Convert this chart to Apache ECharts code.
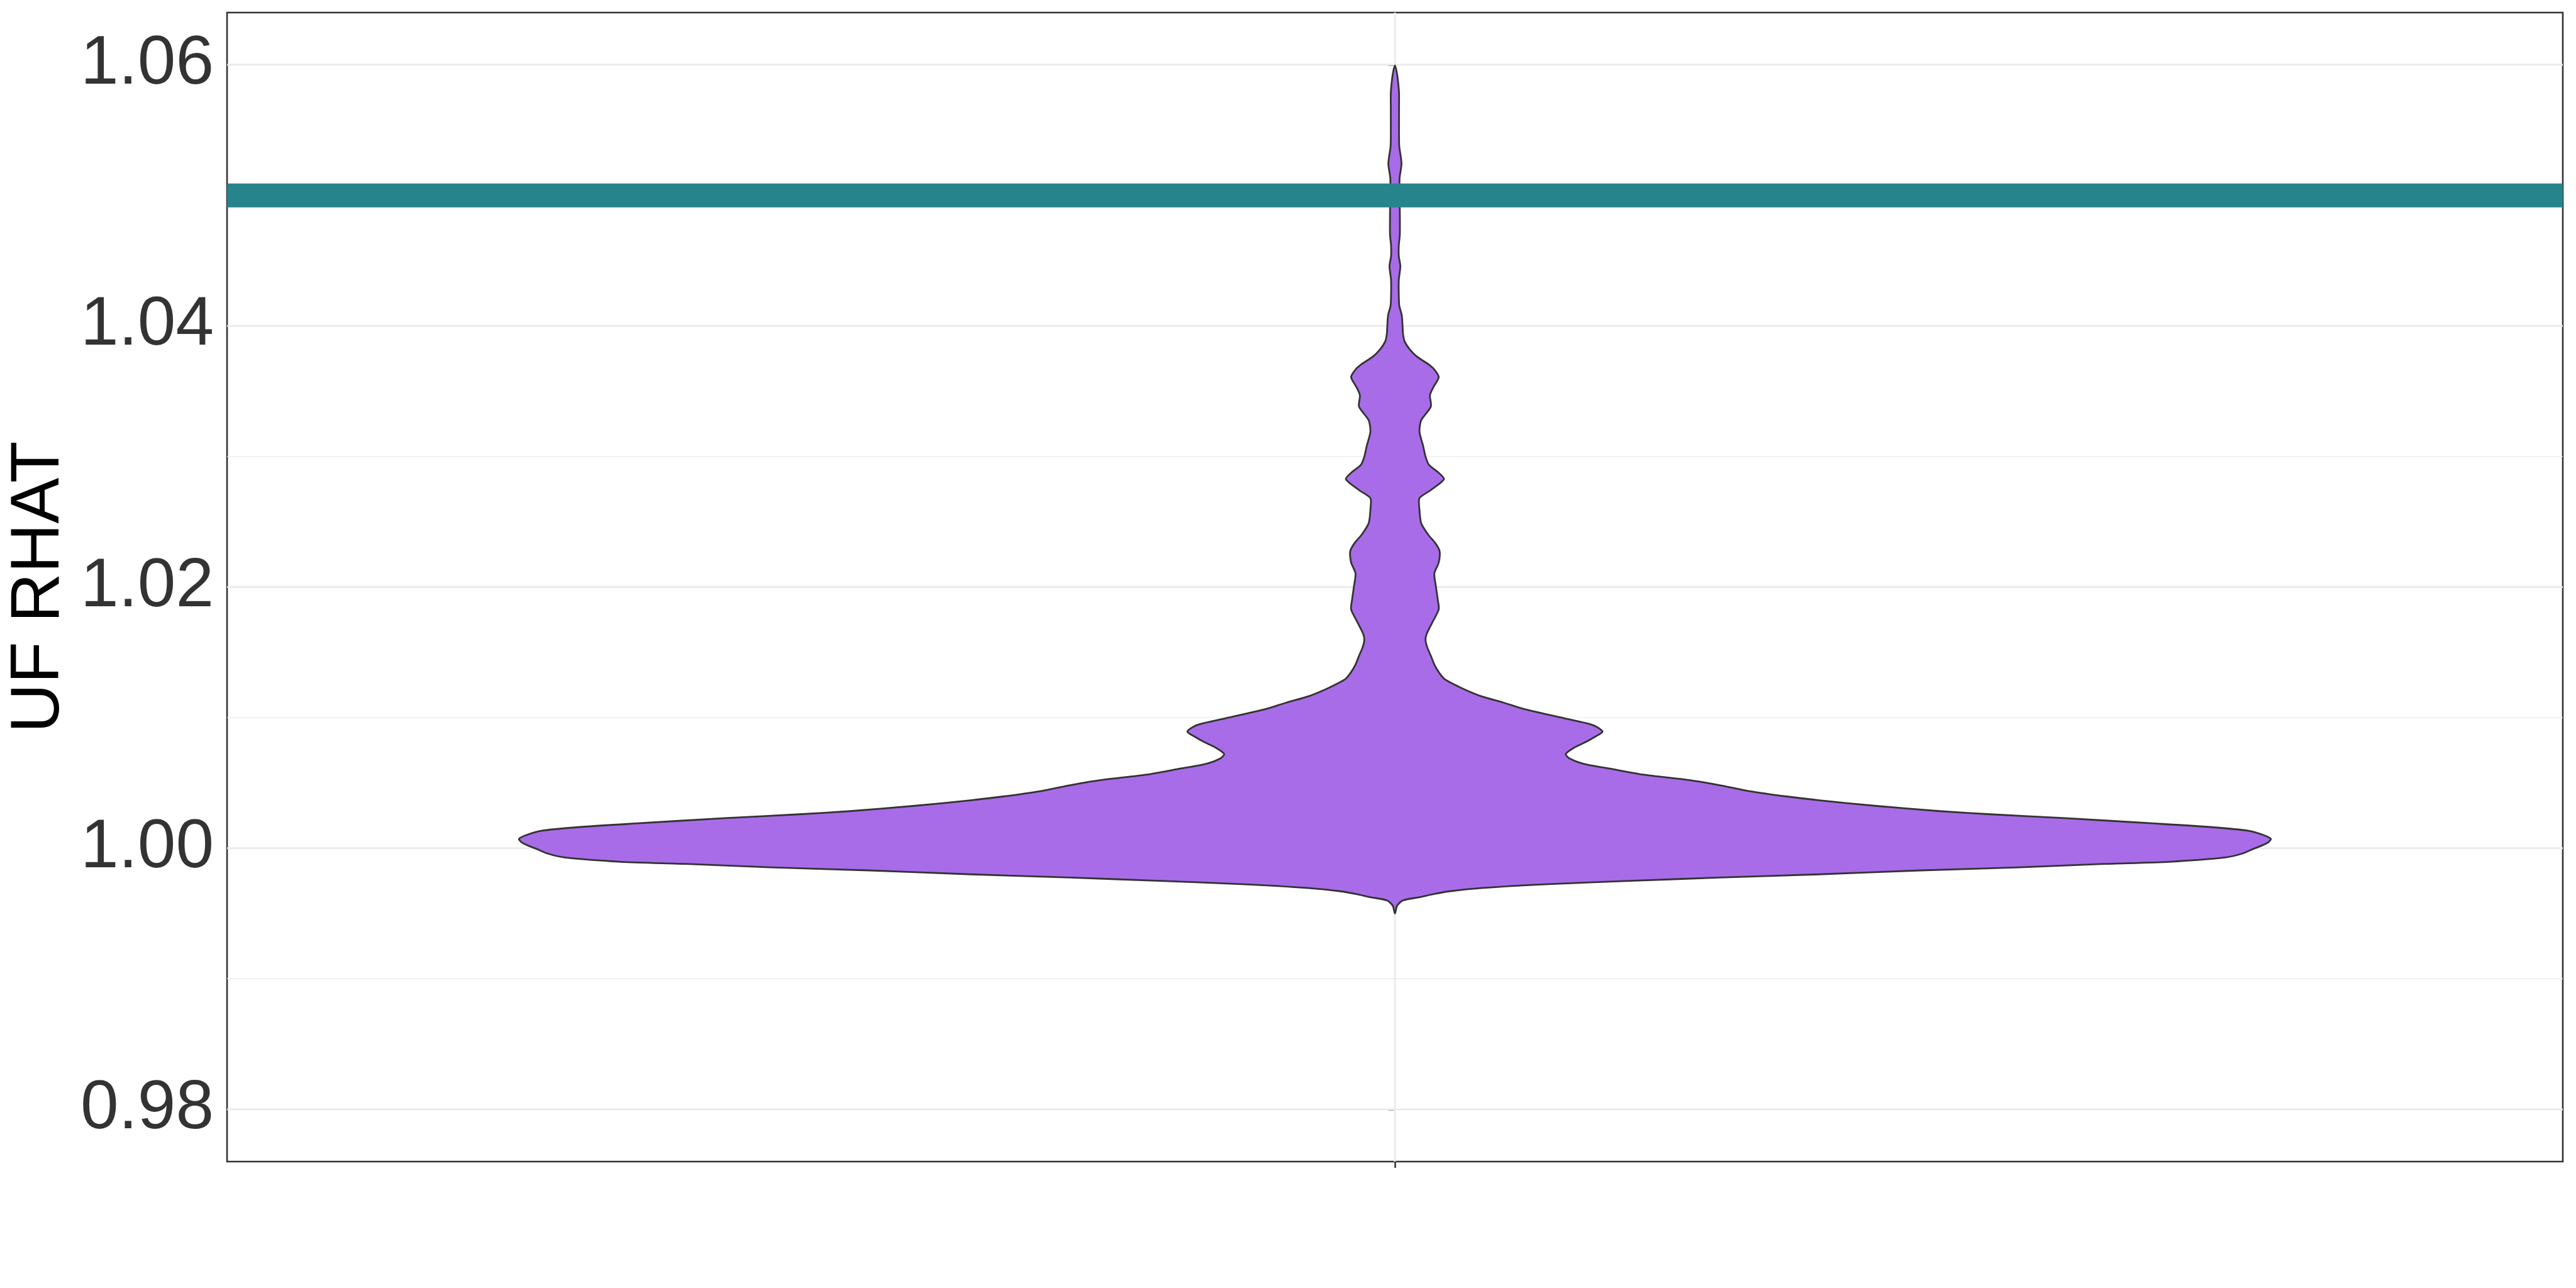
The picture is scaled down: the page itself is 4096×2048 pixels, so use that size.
<!DOCTYPE html>
<html>
<head>
<meta charset="utf-8">
<script src="https://cdn.jsdelivr.net/npm/echarts@6/dist/echarts.min.js"></script>
<style>
html,body{margin:0;padding:0;background:#ffffff;}
#chart{width:4096px;height:2048px;}
</style>
</head>
<body>
<div id="chart"></div>
<script>
// ---------- data ----------
const yTickLabels = [0.98, 1.00, 1.02, 1.04, 1.06];
const yMinorTicks = [0.99, 1.01, 1.03, 1.05];
const yRange = [0.976, 1.064];
const xCategoryPos = [0];          // one (unlabelled) group, centred
const thresholdValues = [1.05];
const axisTitle = 'UF RHAT';

// violin outline: y values and relative half-width (density scaled to max = 1)
const violinY = [0.99500, 0.99560, 0.99600, 0.99625, 0.99650, 0.99670, 0.99695, 0.99725, 0.99750, 0.99775,
  0.99800, 0.99830, 0.99854, 0.99880, 0.99896, 0.99929, 0.99960, 0.99992, 1.00021, 1.00045,
  1.00071, 1.00100, 1.00134, 1.00160, 1.00188, 1.00230, 1.00260, 1.00284, 1.00325, 1.00367,
  1.00396, 1.00438, 1.00480, 1.00522, 1.00564, 1.00605, 1.00647, 1.00689, 1.00722, 1.00772,
  1.00814, 1.00856, 1.00893, 1.00931, 1.00952, 1.00994, 1.01065, 1.01115, 1.01165, 1.01211,
  1.01253, 1.01299, 1.01349, 1.01407, 1.01474, 1.01537, 1.01591, 1.01637, 1.01720, 1.01829,
  1.01900, 1.01996, 1.02104, 1.02188, 1.02276, 1.02338, 1.02401, 1.02489, 1.02593, 1.02681,
  1.02743, 1.02827, 1.02881, 1.02935, 1.02998, 1.03086, 1.03190, 1.03278, 1.03382, 1.03469,
  1.03532, 1.03607, 1.03658, 1.03703, 1.03766, 1.03820, 1.03883, 1.03937, 1.04000, 1.04083,
  1.04154, 1.04238, 1.04351, 1.04459, 1.04534, 1.04614, 1.04701, 1.04873, 1.04990, 1.05132,
  1.05244, 1.05374, 1.05449, 1.05658, 1.05783, 1.05883, 1.05950, 1.05996];
const violinDensity = [0, 0.0025, 0.009, 0.028, 0.045, 0.062, 0.098, 0.175, 0.268, 0.370,
  0.484, 0.600, 0.713, 0.810, 0.884, 0.948, 0.968, 0.979, 0.990, 0.997,
  1.000, 0.992, 0.974, 0.935, 0.871, 0.765, 0.680, 0.622, 0.548, 0.485,
  0.448, 0.404, 0.373, 0.336, 0.283, 0.249, 0.215, 0.199, 0.195, 0.205,
  0.218, 0.229, 0.237, 0.230, 0.222, 0.194, 0.148, 0.124, 0.098, 0.081,
  0.068, 0.056, 0.050, 0.045, 0.041, 0.037, 0.035, 0.036, 0.042, 0.050,
  0.049, 0.047, 0.045, 0.050, 0.051, 0.046, 0.038, 0.030, 0.028, 0.028,
  0.041, 0.056, 0.049, 0.039, 0.035, 0.032, 0.028, 0.030, 0.041, 0.040,
  0.044, 0.050, 0.046, 0.039, 0.025, 0.017, 0.011, 0.0093, 0.0087, 0.0078,
  0.0050, 0.0044, 0.0044, 0.0062, 0.0044, 0.0044, 0.0056, 0.0056, 0.0053, 0.0053,
  0.0075, 0.0050, 0.0047, 0.0047, 0.0047, 0.0034, 0.0019, 0];

// ---------- style constants ----------
const VIOLIN_HALF = 0.45;   // half of the 0.9 dodge width, in x units
const FONT = "'Liberation Sans', Arial, sans-serif";
const DARK = '#333333';
const GRID_COL = '#EBEBEB';

const chart = echarts.init(document.getElementById('chart'), null, {renderer: 'canvas'});

function hLineSeries(values, width, color, z) {
  return {
    type: 'custom', z: z, silent: true, clip: false,
    data: values.map(v => [0, v]),
    renderItem: function (params, api) {
      const cs = params.coordSys;
      const p = api.coord([0, api.value(1)]);
      return {
        type: 'line',
        shape: {x1: cs.x, y1: p[1], x2: cs.x + cs.width, y2: p[1]},
        style: {stroke: color, lineWidth: width, lineCap: 'butt'}
      };
    }
  };
}

const option = {
  animation: false,
  backgroundColor: '#ffffff',
  grid: {
    left: 361, right: 21, top: 20, bottom: 201,
    show: true, borderColor: DARK, borderWidth: 2.6, backgroundColor: 'transparent',
    containLabel: false
  },
  xAxis: {
    type: 'value', min: -0.6, max: 0.6,
    axisLine: {show: false},
    splitLine: {show: false},
    axisLabel: {show: false, customValues: xCategoryPos},
    axisTick: {show: true, customValues: xCategoryPos, length: 10, lineStyle: {color: DARK, width: 2.6}}
  },
  yAxis: {
    type: 'value', min: yRange[0], max: yRange[1],
    axisLine: {show: false},
    splitLine: {show: false},
    axisTick: {show: true, customValues: yTickLabels, length: 10, lineStyle: {color: DARK, width: 2.6}},
    axisLabel: {
      customValues: yTickLabels,
      formatter: v => Number(v).toFixed(2),
      fontSize: 109, color: DARK, fontFamily: FONT, margin: 21
    },
    name: axisTitle, nameLocation: 'middle', nameGap: 244,
    nameTextStyle: {fontSize: 109, color: '#000000', fontFamily: FONT}
  },
  series: [
    hLineSeries(yMinorTicks, 1.45, GRID_COL, 1),
    hLineSeries(yTickLabels, 2.9, GRID_COL, 1),
    {
      type: 'custom', z: 1, silent: true, clip: false,
      data: xCategoryPos.map(x => [x, yRange[0]]),
      renderItem: function (params, api) {
        const cs = params.coordSys;
        const p = api.coord([api.value(0), yRange[0]]);
        return {
          type: 'line',
          shape: {x1: p[0], y1: cs.y, x2: p[0], y2: cs.y + cs.height},
          style: {stroke: GRID_COL, lineWidth: 2.9}
        };
      }
    },
    {
      type: 'custom', z: 2, silent: true, clip: false,
      data: xCategoryPos.map(x => [x, 1.0]),
      renderItem: function (params, api) {
        const cx = api.value(0);
        const pts = [];
        for (let i = 0; i < violinY.length; i++) {
          pts.push(api.coord([cx - violinDensity[i] * VIOLIN_HALF, violinY[i]]));
        }
        for (let i = violinY.length - 2; i >= 1; i--) {
          pts.push(api.coord([cx + violinDensity[i] * VIOLIN_HALF, violinY[i]]));
        }
        return {
          type: 'polygon',
          shape: {points: pts, smooth: 0.25},
          style: {fill: '#A86CE8', stroke: DARK, lineWidth: 2.8, lineJoin: 'round'}
        };
      }
    },
    hLineSeries(thresholdValues, 38, '#26848D', 3)
  ]
};
chart.setOption(option);
</script>
</body>
</html>
